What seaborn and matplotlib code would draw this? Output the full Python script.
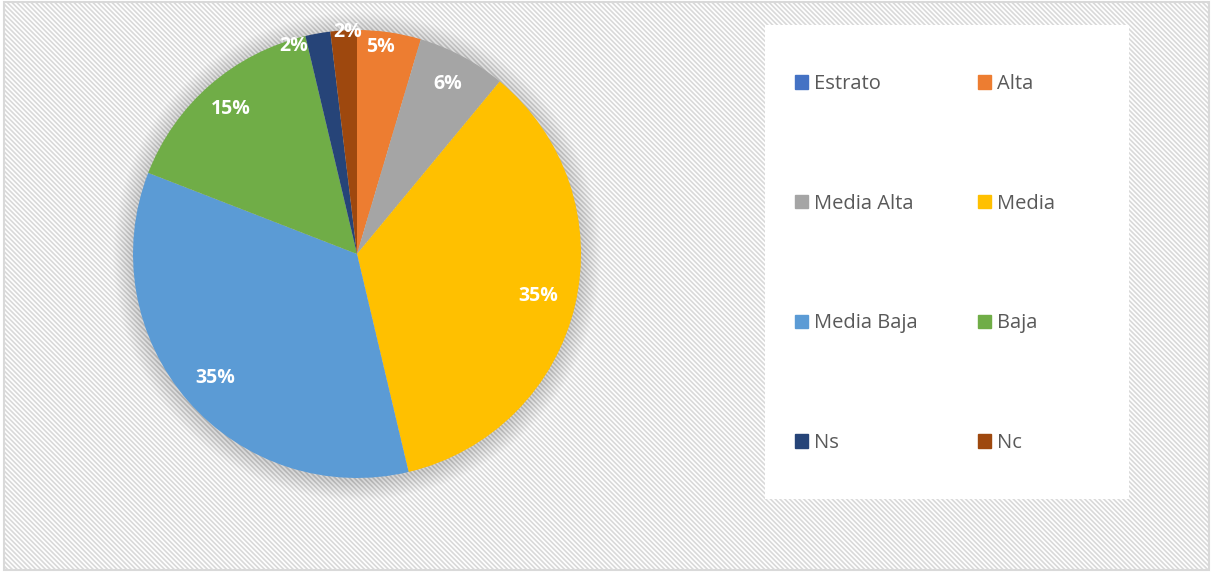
import matplotlib.pyplot as plt
import matplotlib.patches as mpatches
import seaborn as sns
import numpy as np

# Datos (porcentaje por estrato)
categorias = ['Estrato', 'Alta', 'Media Alta', 'Media', 'Media Baja', 'Baja', 'Ns', 'Nc']
valores = [0, 4.6, 6.4, 35.3, 34.6, 15.4, 1.8, 1.9]
colores = ['#4472C4', '#ED7D31', '#A5A5A5', '#FFC000', '#5B9BD5', '#70AD47', '#264478', '#9E480E']

sns.set_theme(style='white')
plt.rcParams['font.family'] = ['Open Sans', 'DejaVu Sans']
plt.rcParams['hatch.linewidth'] = 1.2
plt.rcParams['hatch.color'] = '#f4f4f4'

fig = plt.figure(figsize=(12.13, 5.72), dpi=100)

# fondo rayado y marco
fondo = mpatches.Rectangle((0.003, 0.003), 0.994, 0.994, transform=fig.transFigure,
                           facecolor='white', edgecolor='#d9d9d9', hatch='\\\\\\\\\\\\\\',
                           linewidth=1.5, zorder=-10)
fig.patches.append(fondo)

# caja blanca de la leyenda
caja = mpatches.Rectangle((765 / 1213, 1 - 499 / 572), 364 / 1213, 474 / 572,
                          transform=fig.transFigure, facecolor='white',
                          edgecolor='none', zorder=-5)
fig.patches.append(caja)

# ejes de la torta
cx, cy, r = 357, 254, 224
ax = fig.add_axes([(cx - r) / 1213, (572 - cy - r) / 572, 2 * r / 1213, 2 * r / 572])
ax.axis('off')

# sombra suave alrededor de la torta
for i in range(20):
    ax.add_patch(mpatches.Circle((0.0, -0.01), 1.0 + 0.0045 * (i + 1),
                                 facecolor='#000000', alpha=0.009, edgecolor='none',
                                 zorder=0, clip_on=False))

# solo las categorías con valor
idx = [i for i, v in enumerate(valores) if v > 0]
vals = [valores[i] for i in idx]
cols = [colores[i] for i in idx]

wedges, textos = ax.pie(vals, colors=cols, startangle=90, counterclock=False, radius=1.0,
                        wedgeprops=dict(linewidth=0, zorder=2))
ax.set_xlim(-1, 1)
ax.set_ylim(-1, 1)
ax.set_aspect('equal')

# etiquetas de porcentaje (distancia y desplazamiento angular por porción)
dist = [0.93, 0.86, 0.83, 0.84, 0.86, 0.97, 0.99]
desfase = [1.7, 0, 0, 0, 0, 7, -1]
for w, v, d, off in zip(wedges, vals, dist, desfase):
    ang = np.deg2rad((w.theta1 + w.theta2) / 2 + off)
    ax.text(d * np.cos(ang), d * np.sin(ang), f'{round(v):.0f}%', ha='center', va='center',
            color='white', fontsize=14, fontweight='bold', zorder=5)

# leyenda en dos columnas, ordenada por filas
handles = [mpatches.Patch(color=c, label=l) for l, c in zip(categorias, colores)]
orden = [0, 2, 4, 6, 1, 3, 5, 7]
fig.legend(handles=[handles[i] for i in orden], ncol=2, loc='upper left',
           bbox_to_anchor=(795 / 1213, 1 - 74 / 572),
           frameon=False, fontsize=14.5, labelcolor='#595959', handlelength=0.65,
           handleheight=0.65, handletextpad=0.3, labelspacing=4.95, columnspacing=3.0,
           borderpad=0, borderaxespad=0)

plt.savefig('out.png', dpi=100)
plt.close()
